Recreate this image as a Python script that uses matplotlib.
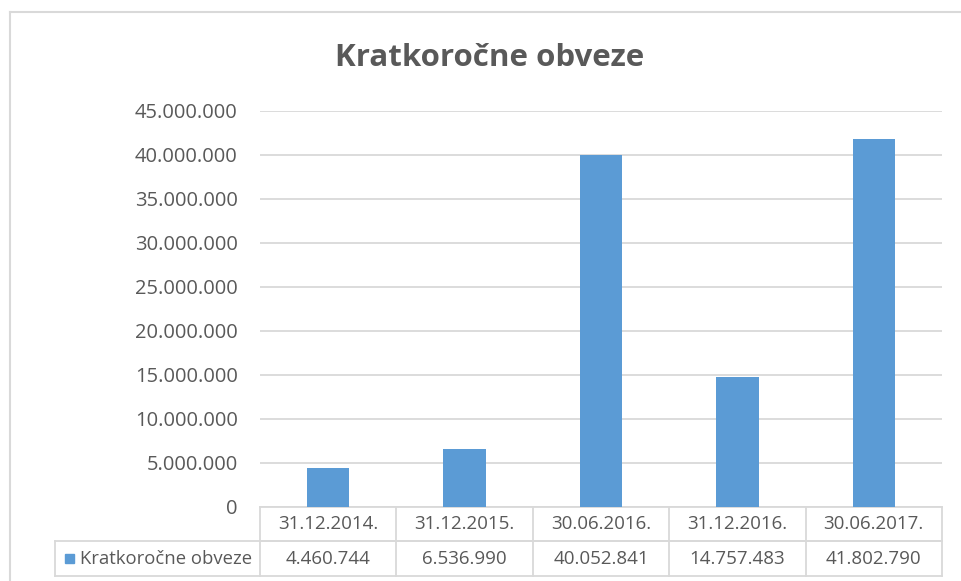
import matplotlib.pyplot as plt
from matplotlib.lines import Line2D
from matplotlib.patches import Rectangle

# data
dates = ['31.12.2014.', '31.12.2015.', '30.06.2016.', '31.12.2016.', '30.06.2017.']
values = [4460744, 6536990, 40052841, 14757483, 41802790]
series_name = 'Kratkoročne obveze'
yticks = [0, 5000000, 10000000, 15000000, 20000000, 25000000,
          30000000, 35000000, 40000000, 45000000]

bar_color = '#5B9BD5'
text_color = '#595959'
grid_color = '#D9D9D9'

plt.rcParams['font.family'] = ['Open Sans', 'DejaVu Sans']


def fmt(v):
    # dots as thousand separators
    return f'{v:,}'.replace(',', '.')


W, H = 962, 581
fig = plt.figure(figsize=(W / 100, H / 100), dpi=100)

# outer chart frame (only top and left visible)
fig.add_artist(Line2D([10 / W, 10 / W], [0, 1 - 12 / H], color=grid_color, lw=1.5))
fig.add_artist(Line2D([10 / W, 1], [1 - 12 / H, 1 - 12 / H], color=grid_color, lw=1.5))

left, right, top, bottom = 260, 942, 111, 507
ax = fig.add_axes([left / W, 1 - bottom / H, (right - left) / W, (bottom - top) / H])

x = list(range(len(dates)))
ax.bar(x, values, width=0.31, color=bar_color, zorder=3)
ax.set_xlim(-0.5, len(dates) - 0.5)
ax.set_ylim(0, 45000000)
ax.set_yticks(yticks)
ax.set_yticklabels([fmt(v) for v in yticks], fontsize=14.5, color=text_color)
ax.tick_params(axis='y', length=0, pad=16)
ax.set_xticks([])
ax.grid(axis='y', color=grid_color, lw=1.3, zorder=0)
for s in ['top', 'right', 'left']:
    ax.spines[s].set_visible(False)
ax.spines['bottom'].set_color(grid_color)
ax.spines['bottom'].set_linewidth(1.3)

fig.text(490 / W, 1 - 58 / H, series_name, ha='center', va='center',
         fontsize=22.5, fontweight='bold', color=text_color)

# data table below the axis
ph = bottom - top
pw = right - left
r1 = -(541 - bottom) / ph
r2 = -(576 - bottom) / ph
c0 = -(left - 55) / pw
tr = ax.transAxes
lk = dict(color=grid_color, lw=1.3, transform=tr, clip_on=False)
ax.add_line(Line2D([0, 1], [r1, r1], **lk))
ax.add_line(Line2D([c0, 1], [r1, r1], **lk))
ax.add_line(Line2D([c0, 1], [r2, r2], **lk))
ax.add_line(Line2D([c0, c0], [r1, r2], **lk))
for i in range(len(dates) + 1):
    xf = i / len(dates)
    ax.add_line(Line2D([xf, xf], [0, r2], **lk))

for i, (d, v) in enumerate(zip(dates, values)):
    xc = (i + 0.5) / len(dates)
    ax.text(xc, r1 / 2, d, transform=tr, ha='center', va='center',
            fontsize=13.5, color=text_color)
    ax.text(xc, (r1 + r2) / 2, fmt(v), transform=tr, ha='center', va='center',
            fontsize=13.5, color=text_color)

# legend key in the first column
sq = 9 / pw
ax.add_patch(Rectangle((-(left - 65) / pw, (r1 + r2) / 2 - 4.5 / ph), sq, 9 / ph,
                       transform=tr, clip_on=False, color=bar_color))
ax.text(-(left - 80) / pw, (r1 + r2) / 2, series_name, transform=tr,
        ha='left', va='center', fontsize=13.3, color=text_color)

fig.savefig('out.png', dpi=100)
